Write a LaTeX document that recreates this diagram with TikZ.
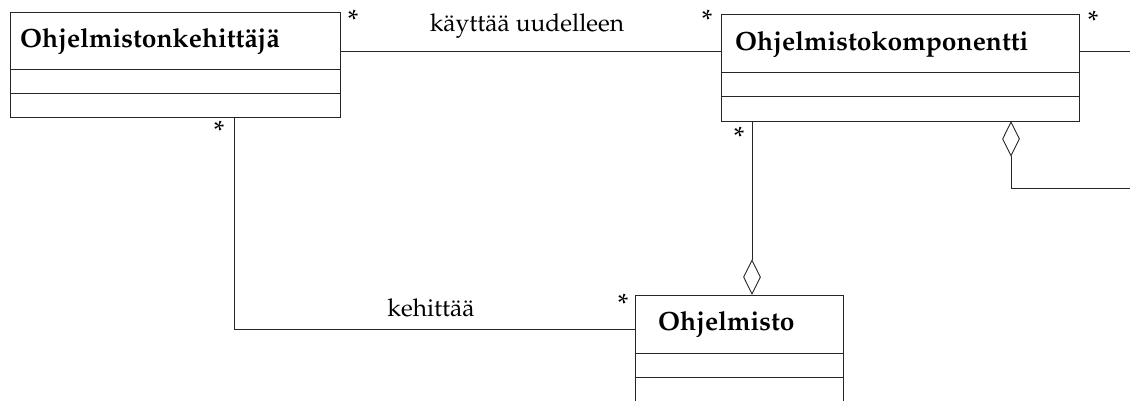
\documentclass[tikz,border=0pt]{standalone}
\usepackage[T1]{fontenc}
\usepackage{mathpazo}
\usetikzlibrary{shapes.geometric}

\tikzset{
  umlline/.style={line width=0.9pt, draw=black!85},
  classbox/.style={umlline, rectangle, inner sep=0pt},
  classname/.style={inner sep=0pt, anchor=base west, font=\fontsize{26.4}{30}\selectfont\bfseries},
  assoclabel/.style={inner sep=0pt, anchor=base, font=\fontsize{24.5}{28}\selectfont},
  mult/.style={inner sep=0pt, font=\fontsize{28}{32}\selectfont},
  aggr/.style={umlline, diamond, fill=white, inner sep=0pt, minimum width=17pt, minimum height=34pt},
}

\begin{document}
\begin{tikzpicture}[x=1pt, y=-1pt]
  \useasboundingbox (0,0) rectangle (1130,401);
  \clip (0,0) rectangle (1130,401);

  % class boxes
  \node[classbox, minimum width=330pt, minimum height=105pt] (dev) at (175,64.5) {};
  \node[classbox, minimum width=358pt, minimum height=107pt] (comp) at (900,67.5) {};
  \node[classbox, minimum width=208pt, minimum height=140pt] (sw) at (739,365) {};

  % compartment dividers
  \draw[umlline] ([yshift=-58pt]dev.north west) -- ([yshift=-58pt]dev.north east);
  \draw[umlline] ([yshift=-82pt]dev.north west) -- ([yshift=-82pt]dev.north east);
  \draw[umlline] ([yshift=-59pt]comp.north west) -- ([yshift=-59pt]comp.north east);
  \draw[umlline] ([yshift=-83pt]comp.north west) -- ([yshift=-83pt]comp.north east);
  \draw[umlline] ([yshift=-59pt]sw.north west) -- ([yshift=-59pt]sw.north east);
  \draw[umlline] ([yshift=-83pt]sw.north west) -- ([yshift=-83pt]sw.north east);

  % class names
  \node[classname] (devname) at (20,48) {Ohjelmistonkehittäjä};
  \node[classname] (compname) at (735,51) {Ohjelmistokomponentti};
  \node[classname] (swname) at (658,330) {Ohjelmisto};

  % aggregation diamonds
  \node[aggr, anchor=south] (agg1) at (sw.north -| 752,0) {};
  \node[aggr, anchor=north] (agg2) at (comp.south -| 1011,0) {};

  % anchor points of the connectors
  \coordinate (devR) at (dev.north east |- 0,51);
  \coordinate (compL) at (comp.north west |- 0,51);
  \coordinate (compR) at (comp.north east |- 0,51);
  \coordinate (compRend) at (1131,51);
  \coordinate (devB) at (dev.south -| 234,0);
  \coordinate (swL) at (sw.north west |- 0,329);
  \coordinate (compB) at (comp.south -| 752,0);
  \coordinate (selfend) at (1131,188);

  % associations
  \draw[umlline] (devR) -- (compL);
  \draw[umlline] (compR) -- (compRend);
  \draw[umlline] (devB) |- (swL);
  \draw[umlline] (compB) -- (agg1.north);
  \draw[umlline] (agg2.south) |- (selfend);

  % association names
  \node[assoclabel] (reuse) at (527,32) {käyttää uudelleen};
  \node[assoclabel] (develops) at (431,316) {kehittää};

  % multiplicities
  \node[mult] (m1) at (353,20) {*};
  \node[mult] (m2) at (707,20) {*};
  \node[mult] (m3) at (1093,21) {*};
  \node[mult] (m4) at (219,131) {*};
  \node[mult] (m5) at (739,137) {*};
  \node[mult] (m6) at (623,304) {*};
\end{tikzpicture}
\end{document}
